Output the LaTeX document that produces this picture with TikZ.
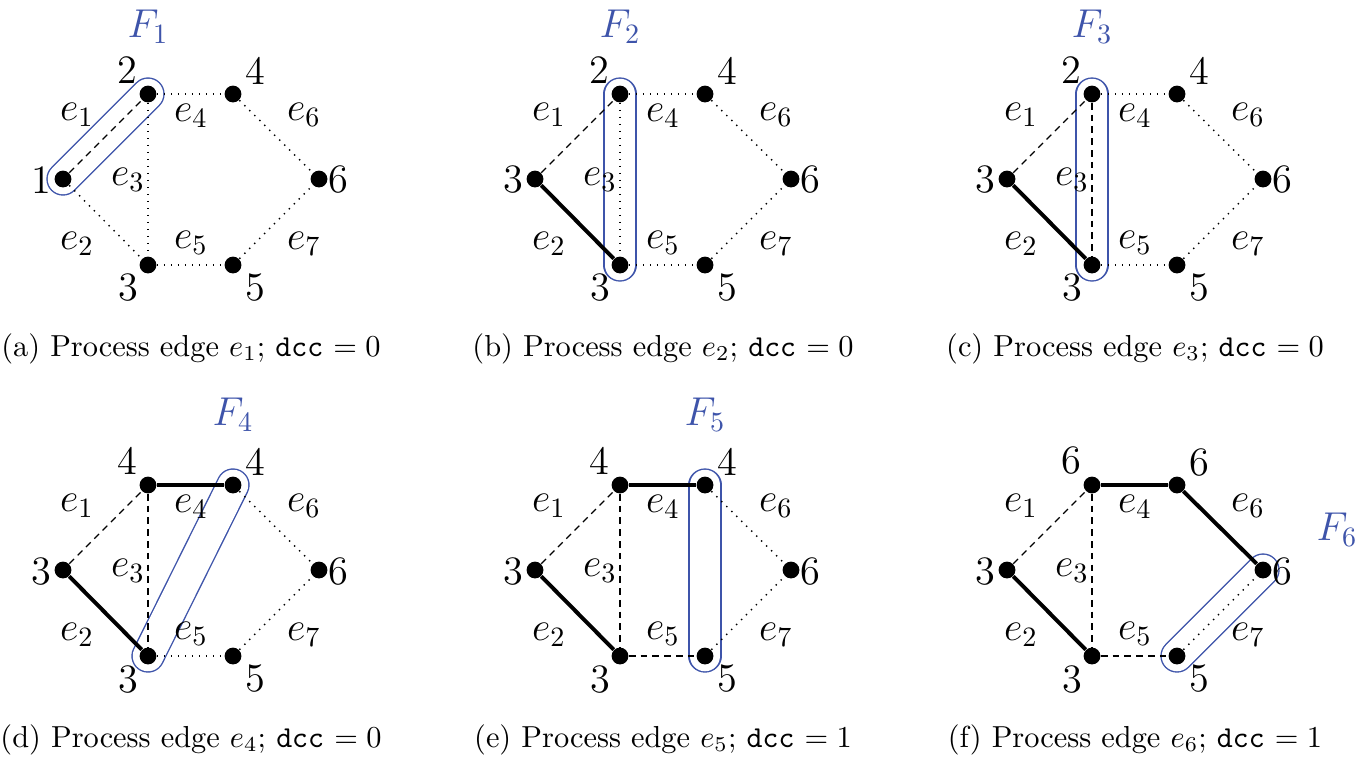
\documentclass[tikz,border=0pt]{standalone}
\usetikzlibrary{backgrounds}
\definecolor{fblue}{RGB}{62,84,170}
\tikzset{
 x=0.35714pt, y=-0.35714pt,
 dotn/.style={circle, fill=black, inner sep=0pt, minimum size=6pt},
 numl/.style={font=\Large, inner sep=0pt},
 edl/.style={font=\Large, inner sep=0pt},
 flab/.style={font=\Large, text=fblue, inner sep=0pt},
 capsule/.style={draw=fblue, line width=0.5pt, double=white, double distance=10.9pt, line cap=round},
 dashedge/.style={dash pattern=on 2.4pt off 1.8pt, line width=0.4pt},
 dotedge/.style={dotted, line width=0.5pt},
 thickedge/.style={line width=1.4pt},
 capt/.style={anchor=base, inner sep=0pt, font=\normalsize, scale=1.085, transform shape},
}
\newcommand\grph[7]{%
  \node[dotn] (#1v1) at (63,179) {};
  \node[dotn] (#1v2) at (148,94) {};
  \node[dotn] (#1v3) at (148,265) {};
  \node[dotn] (#1v4) at (233,94) {};
  \node[dotn] (#1v5) at (233,265) {};
  \node[dotn] (#1v6) at (319,179) {};
  \draw[s1] (#1v1) -- (#1v2);
  \draw[s2] (#1v1) -- (#1v3);
  \draw[s3] (#1v2) -- (#1v3);
  \draw[s4] (#1v2) -- (#1v4);
  \draw[s5] (#1v3) -- (#1v5);
  \draw[s6] (#1v4) -- (#1v6);
  \draw[s7] (#1v5) -- (#1v6);
  \node[numl] (#1l1) at (41,180) {#2};
  \node[numl] (#1l2) at (127,70) {#3};
  \node[numl] (#1l3) at (128,288) {#4};
  \node[numl] (#1l4) at (255,71) {#5};
  \node[numl] (#1l5) at (255,288) {#6};
  \node[numl] (#1l6) at (338,180) {#7};
  \node[edl] (#1e1) at (77,115) {$e_1$};
  \node[edl] (#1e2) at (77,244) {$e_2$};
  \node[edl] (#1e3) at (128,180) {$e_3$};
  \node[edl] (#1e4) at (191,116) {$e_4$};
  \node[edl] (#1e5) at (191,243) {$e_5$};
  \node[edl] (#1e6) at (304,115) {$e_6$};
  \node[edl] (#1e7) at (304,244) {$e_7$};
}
\newcommand\capsl[2]{%
  \begin{pgfonlayer}{background}
    \draw[capsule] (#1.center) -- (#2.center);
  \end{pgfonlayer}}
\begin{document}
\begin{tikzpicture}
\useasboundingbox (0,0) rectangle (1366,770);
% (a)
\begin{scope}[s1/.style=dashedge, s2/.style=dotedge, s3/.style=dotedge, s4/.style=dotedge, s5/.style=dotedge, s6/.style=dotedge, s7/.style=dotedge]
  \grph{a}{1}{2}{3}{4}{5}{6}
  \capsl{av1}{av2}
  \node[flab] (af) at (148,27) {$F_1$};
  \node[capt] (acapt) at (191,356) {(a) Process edge $e_1$; \texttt{dcc} $= 0$};
\end{scope}
% (b)
\begin{scope}[shift={(472,0)}, s1/.style=dashedge, s2/.style=thickedge, s3/.style=dotedge, s4/.style=dotedge, s5/.style=dotedge, s6/.style=dotedge, s7/.style=dotedge]
  \grph{b}{3}{2}{3}{4}{5}{6}
  \capsl{bv2}{bv3}
  \node[flab] (bf) at (148,27) {$F_2$};
  \node[capt] (bcapt) at (191,356) {(b) Process edge $e_2$; \texttt{dcc} $= 0$};
\end{scope}
% (c)
\begin{scope}[shift={(944,0)}, s1/.style=dashedge, s2/.style=thickedge, s3/.style=dashedge, s4/.style=dotedge, s5/.style=dotedge, s6/.style=dotedge, s7/.style=dotedge]
  \grph{c}{3}{2}{3}{4}{5}{6}
  \capsl{cv2}{cv3}
  \node[flab] (cf) at (148,27) {$F_3$};
  \node[capt] (ccapt) at (191,356) {(c) Process edge $e_3$; \texttt{dcc} $= 0$};
\end{scope}
% (d)
\begin{scope}[shift={(0,391)}, s1/.style=dashedge, s2/.style=thickedge, s3/.style=dashedge, s4/.style=thickedge, s5/.style=dotedge, s6/.style=dotedge, s7/.style=dotedge]
  \grph{d}{3}{4}{3}{4}{5}{6}
  \capsl{dv3}{dv4}
  \node[flab] (df) at (233,24) {$F_4$};
  \node[capt] (dcapt) at (191,356) {(d) Process edge $e_4$; \texttt{dcc} $= 0$};
\end{scope}
% (e)
\begin{scope}[shift={(472,391)}, s1/.style=dashedge, s2/.style=thickedge, s3/.style=dashedge, s4/.style=thickedge, s5/.style=dashedge, s6/.style=dotedge, s7/.style=dotedge]
  \grph{e}{3}{4}{3}{4}{5}{6}
  \capsl{ev4}{ev5}
  \node[flab] (ef) at (233,24) {$F_5$};
  \node[capt] (ecapt) at (191,356) {(e) Process edge $e_5$; \texttt{dcc} $= 1$};
\end{scope}
% (f)
\begin{scope}[shift={(944,391)}, s1/.style=dashedge, s2/.style=thickedge, s3/.style=dashedge, s4/.style=thickedge, s5/.style=dashedge, s6/.style=thickedge, s7/.style=dotedge]
  \grph{f}{3}{6}{3}{6}{5}{6}
  \capsl{fv5}{fv6}
  \node[flab] (ff) at (393,139) {$F_6$};
  \node[capt] (fcapt) at (191,356) {(f) Process edge $e_6$; \texttt{dcc} $= 1$};
\end{scope}
\end{tikzpicture}
\end{document}
